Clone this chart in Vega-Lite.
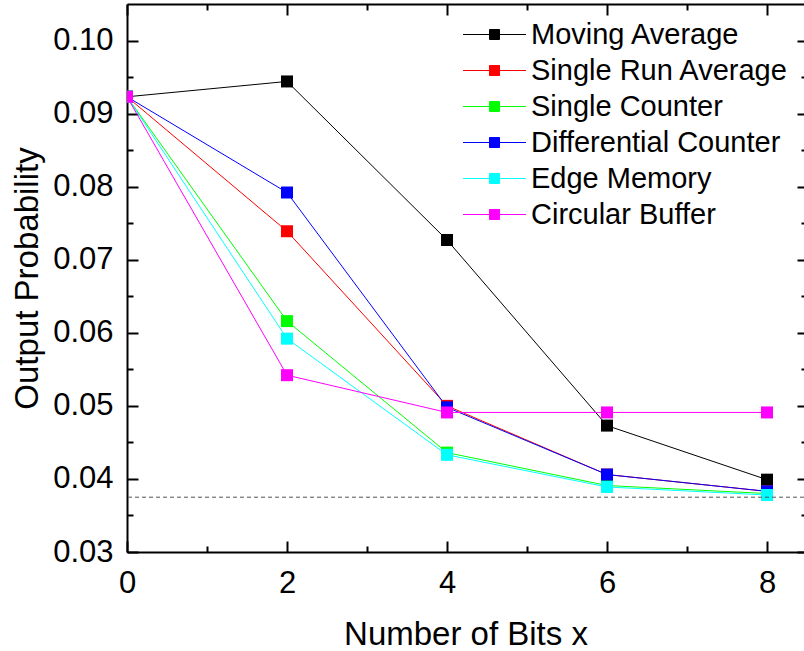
{
  "$schema": "https://vega.github.io/schema/vega-lite/v6.json",
  "width": 677,
  "height": 548,
  "autosize": "none",
  "padding": {"left": 127, "top": 4, "right": 0, "bottom": 99},
  "background": "white",
  "config": {
    "view": {"stroke": null},
    "font": "Liberation Sans",
    "axis": {
      "labelFont": "Liberation Sans",
      "titleFont": "Liberation Sans",
      "labelColor": "#000",
      "titleColor": "#000",
      "domainColor": "#000",
      "tickColor": "#000",
      "domainWidth": 2,
      "tickWidth": 2,
      "grid": false,
      "labelFlush": false,
      "labelOverlap": false,
      "labelFontWeight": "normal",
      "titleFontWeight": "normal"
    }
  },
  "datasets": {
    "series": [
      {"method": "Moving Average", "bits": 0, "p": 0.0923},
      {"method": "Moving Average", "bits": 2, "p": 0.0944},
      {"method": "Moving Average", "bits": 4, "p": 0.0727},
      {"method": "Moving Average", "bits": 6, "p": 0.0473},
      {"method": "Moving Average", "bits": 8, "p": 0.0399},
      {"method": "Single Run Average", "bits": 0, "p": 0.0923},
      {"method": "Single Run Average", "bits": 2, "p": 0.0739},
      {"method": "Single Run Average", "bits": 4, "p": 0.0500},
      {"method": "Single Run Average", "bits": 6, "p": 0.0406},
      {"method": "Single Run Average", "bits": 8, "p": 0.0383},
      {"method": "Single Counter", "bits": 0, "p": 0.0923},
      {"method": "Single Counter", "bits": 2, "p": 0.0616},
      {"method": "Single Counter", "bits": 4, "p": 0.0436},
      {"method": "Single Counter", "bits": 6, "p": 0.0391},
      {"method": "Single Counter", "bits": 8, "p": 0.0380},
      {"method": "Differential Counter", "bits": 0, "p": 0.0923},
      {"method": "Differential Counter", "bits": 2, "p": 0.0792},
      {"method": "Differential Counter", "bits": 4, "p": 0.0498},
      {"method": "Differential Counter", "bits": 6, "p": 0.0406},
      {"method": "Differential Counter", "bits": 8, "p": 0.0383},
      {"method": "Edge Memory", "bits": 0, "p": 0.0923},
      {"method": "Edge Memory", "bits": 2, "p": 0.0592},
      {"method": "Edge Memory", "bits": 4, "p": 0.0433},
      {"method": "Edge Memory", "bits": 6, "p": 0.0389},
      {"method": "Edge Memory", "bits": 8, "p": 0.0378},
      {"method": "Circular Buffer", "bits": 0, "p": 0.0923},
      {"method": "Circular Buffer", "bits": 2, "p": 0.0542},
      {"method": "Circular Buffer", "bits": 4, "p": 0.0491},
      {"method": "Circular Buffer", "bits": 6, "p": 0.0491},
      {"method": "Circular Buffer", "bits": 8, "p": 0.0491}
    ],
    "limit": [{"p": 0.0375}]
  },
  "resolve": {"axis": {"x": "independent", "y": "independent"}},
  "layer": [
    {
      "data": {"name": "series"},
      "mark": {"type": "line", "strokeWidth": 1, "clip": true},
      "encoding": {
        "x": {
          "field": "bits", "type": "quantitative",
          "scale": {"domain": [0, 8.4625], "nice": false, "zero": false},
          "axis": {
            "orient": "bottom", "values": [0, 2, 4, 6, 8], "format": "d",
            "tickSize": -11, "labelPadding": 27, "labelFontSize": 31,
            "title": "Number of Bits x", "titleFontSize": 33,
            "titleBaseline": "alphabetic", "titleY": 92, "titleX": 338.5, "titleAlign": "center"
          }
        },
        "y": {
          "field": "p", "type": "quantitative",
          "scale": {"domain": [0.03, 0.105], "nice": false, "zero": false},
          "axis": {
            "orient": "left", "values": [0.03, 0.04, 0.05, 0.06, 0.07, 0.08, 0.09, 0.10], "format": ".2f",
            "tickSize": -11, "labelPadding": 25, "labelFontSize": 31,
            "title": "Output Probability", "titleFontSize": 33,
            "titleAngle": -90, "titleBaseline": "alphabetic", "titleAlign": "center",
            "titleX": -90, "titleY": 274
          }
        },
        "color": {
          "field": "method", "type": "nominal",
          "scale": {
            "domain": ["Moving Average", "Single Run Average", "Single Counter", "Differential Counter", "Edge Memory", "Circular Buffer"],
            "range": ["#000000", "#FF0000", "#00FF00", "#0000FF", "#00FFFF", "#FF00FF"]
          },
          "legend": {
            "title": null,
            "orient": "none",
            "legendX": 353,
            "legendY": 16,
            "padding": 0,
            "symbolType": "M-3.15,0H3.15M-0.5,-0.5H0.5V0.5H-0.5Z",
            "symbolSize": 400,
            "symbolStrokeWidth": 1,
            "symbolOpacity": 1,
            "labelFont": "Liberation Sans",
            "labelFontSize": 29,
            "labelColor": "#000",
            "labelOffset": 22,
            "rowPadding": 6,
            "labelLimit": 400,
            "encode": {
              "symbols": {
                "update": {
                  "fill": {"scale": "color", "field": "value"},
                  "stroke": {"scale": "color", "field": "value"},
                  "opacity": {"value": 1}
                }
              }
            }
          }
        }
      }
    },
    {
      "data": {"name": "series"},
      "mark": {"type": "point", "shape": "square", "filled": true, "size": 144, "opacity": 1, "clip": true},
      "encoding": {
        "x": {
          "field": "bits", "type": "quantitative",
          "scale": {"domain": [0, 8.4625], "nice": false, "zero": false},
          "axis": {"orient": "bottom", "values": [1, 3, 5, 7], "labels": false, "domain": false, "tickSize": -6, "title": null}
        },
        "y": {
          "field": "p", "type": "quantitative",
          "scale": {"domain": [0.03, 0.105], "nice": false, "zero": false},
          "axis": {"orient": "left", "values": [0.035, 0.045, 0.055, 0.065, 0.075, 0.085, 0.095], "labels": false, "domain": false, "tickSize": -6, "title": null}
        },
        "color": {"field": "method", "type": "nominal"}
      }
    },
    {
      "data": {"name": "series"},
      "mark": {"type": "point", "opacity": 0},
      "encoding": {
        "x": {
          "field": "bits", "type": "quantitative",
          "scale": {"domain": [0, 8.4625], "nice": false, "zero": false},
          "axis": {"orient": "top", "values": [0, 2, 4, 6, 8], "labels": false, "tickSize": -11, "title": null}
        },
        "y": {
          "field": "p", "type": "quantitative",
          "scale": {"domain": [0.03, 0.105], "nice": false, "zero": false},
          "axis": {"orient": "right", "values": [0.03, 0.04, 0.05, 0.06, 0.07, 0.08, 0.09, 0.10], "labels": false, "domain": false, "tickSize": -7, "title": null}
        }
      }
    },
    {
      "data": {"name": "series"},
      "mark": {"type": "point", "opacity": 0},
      "encoding": {
        "x": {
          "field": "bits", "type": "quantitative",
          "scale": {"domain": [0, 8.4625], "nice": false, "zero": false},
          "axis": {"orient": "top", "values": [1, 3, 5, 7], "labels": false, "domain": false, "tickSize": -6, "title": null}
        },
        "y": {
          "field": "p", "type": "quantitative",
          "scale": {"domain": [0.03, 0.105], "nice": false, "zero": false},
          "axis": {"orient": "right", "values": [0.035, 0.045, 0.055, 0.065, 0.075, 0.085, 0.095], "labels": false, "domain": false, "tickSize": -3, "title": null}
        }
      }
    },
    {
      "data": {"name": "limit"},
      "mark": {"type": "rule", "color": "#555555", "strokeWidth": 1, "strokeDash": [4, 3]},
      "encoding": {
        "y": {
          "field": "p", "type": "quantitative",
          "scale": {"domain": [0.03, 0.105], "nice": false, "zero": false},
          "axis": null
        }
      }
    }
  ]
}
